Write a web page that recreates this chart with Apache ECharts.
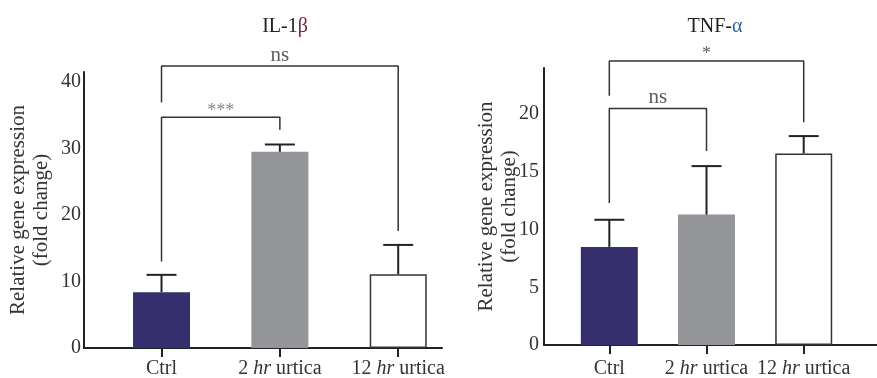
<!DOCTYPE html>
<html>
<head>
<meta charset="utf-8">
<script src="https://cdn.jsdelivr.net/npm/echarts@6/dist/echarts.min.js"></script>
<style>
  html, body { margin: 0; padding: 0; background: #fff; }
  #chart { width: 877px; height: 378px; }
</style>
</head>
<body>
<div id="chart"></div>
<script>
// categories sit at x = 1, 2, 3 on a value axis
const categories = ["Ctrl", "2 {i|hr} urtica", "12 {i|hr} urtica"];
const positions = [1, 2, 3];
const barColors = ["#352f6e", "#939598", "#ffffff"];

// IL-1β
const ilMean = [8.4, 29.5, 11.1];
const ilErrTop = [11.0, 30.6, 15.5];
// TNF-α
const tnfMean = [8.5, 11.3, 16.6];
const tnfErrTop = [10.85, 15.5, 18.1];

// significance brackets: [from, to, top, left leg end, right leg end, text]
const ilBrackets = [
  [1, 3, 42.4, 36.9, 17.6, "ns"],
  [1, 2, 34.7, 13.0, 32.8, "***"]
];
const tnfBrackets = [
  [1, 3, 24.6, 21.6, 19.3, "*"],
  [1, 2, 20.5, 12.3, 16.8, "ns"]
];

const FONT = "Liberation Serif";
const INK = "#222";
const FS = 20;

function barData(means) {
  return means.map((v, i) => ({
    value: [positions[i], v],
    itemStyle: {
      color: barColors[i],
      borderColor: i === 2 ? "#333" : barColors[i],
      borderWidth: i === 2 ? 1.5 : 0
    }
  }));
}

function errorSeries(idx, means, tops) {
  return {
    type: "custom",
    xAxisIndex: idx,
    yAxisIndex: idx,
    z: 5,
    data: means.map((v, i) => [positions[i], v, tops[i]]),
    renderItem: function (params, api) {
      const lo = api.coord([api.value(0), api.value(1)]);
      const hi = api.coord([api.value(0), api.value(2)]);
      const style = { stroke: INK, lineWidth: 2 };
      return {
        type: "group",
        children: [
          { type: "line", shape: { x1: lo[0], y1: lo[1], x2: hi[0], y2: hi[1] }, style: style },
          { type: "line", shape: { x1: hi[0] - 15, y1: hi[1], x2: hi[0] + 15, y2: hi[1] }, style: style }
        ]
      };
    }
  };
}

function bracketSeries(idx, brackets) {
  const out = [];
  brackets.forEach((b) => {
    const isNs = b[5] === "ns";
    out.push({
      type: "line",
      xAxisIndex: idx,
      yAxisIndex: idx,
      clip: false,
      showSymbol: false,
      silent: true,
      z: 6,
      lineStyle: { color: "#333", width: 1.5 },
      data: [[b[0], b[3]], [b[0], b[2]], [b[1], b[2]], [b[1], b[4]]]
    });
    out.push({
      type: "scatter",
      xAxisIndex: idx,
      yAxisIndex: idx,
      clip: false,
      symbolSize: 0,
      silent: true,
      z: 6,
      data: [[(b[0] + b[1]) / 2, b[2]]],
      label: {
        show: true,
        position: "top",
        distance: isNs ? 0 : (b[5] === "*" ? -2 : -3),
        formatter: b[5],
        fontFamily: FONT,
        fontSize: isNs ? 21 : 18,
        color: b[5] === "***" ? "#666" : "#333"
      }
    });
  });
  return out;
}

function xAxis(idx, min, max, margin) {
  return {
    type: "value",
    gridIndex: idx,
    min: min,
    max: max,
    splitLine: { show: false },
    axisLine: { show: true, onZero: false, lineStyle: { color: INK, width: 2 } },
    axisTick: { show: true, customValues: positions, length: 9, lineStyle: { color: INK, width: 2 } },
    axisLabel: {
      customValues: positions,
      margin: margin,
      fontFamily: FONT,
      fontSize: FS,
      color: "#333",
      formatter: (v) => categories[positions.indexOf(v)],
      rich: { i: { fontFamily: FONT, fontSize: FS, fontStyle: "italic", color: "#333" } }
    }
  };
}

function yAxis(idx, max, interval, nameGap, labelMargin) {
  return {
    type: "value",
    gridIndex: idx,
    min: 0,
    max: max,
    interval: interval,
    name: "Relative gene expression\n(fold change)",
    nameLocation: "middle",
    nameGap: nameGap,
    nameRotate: 90,
    nameMoveOverlap: false,
    nameTextStyle: { fontFamily: FONT, fontSize: 21, lineHeight: 23, color: "#333" },
    splitLine: { show: false },
    axisTick: { show: false },
    axisLine: { show: true, lineStyle: { color: INK, width: 2 } },
    axisLabel: { showMaxLabel: false, margin: labelMargin, fontFamily: FONT, fontSize: FS, color: "#333" }
  };
}

const chart = echarts.init(document.getElementById("chart"), null, { renderer: "canvas" });

chart.setOption({
  animation: false,
  backgroundColor: "#fff",
  title: [
    {
      text: "IL-1{b|β}",
      left: 280,
      top: 12,
      textAlign: "center",
      textStyle: { fontFamily: FONT, fontSize: 20, fontWeight: "normal", color: INK,
        rich: { b: { fontFamily: FONT, fontSize: 20, color: "#6b2535" } } }
    },
    {
      text: "TNF-{a|α}",
      left: 710,
      top: 12,
      textAlign: "center",
      textStyle: { fontFamily: FONT, fontSize: 20, fontWeight: "normal", color: INK,
        rich: { a: { fontFamily: FONT, fontSize: 20, color: "#2b5fa8" } } }
    }
  ],
  grid: [
    { left: 84, top: 72, width: 358, height: 276, outerBoundsMode: "none" },
    { left: 544, top: 68, width: 333, height: 277, outerBoundsMode: "none" }
  ],
  xAxis: [xAxis(0, 0.345, 3.37, 11), xAxis(1, 0.328, 3.754, 14)],
  yAxis: [yAxis(0, 41.5, 10, 31, 3), yAxis(1, 24, 5, 23, 5)],
  series: [
    { type: "bar", xAxisIndex: 0, yAxisIndex: 0, barWidth: 57, z: 3, data: barData(ilMean) },
    { type: "bar", xAxisIndex: 1, yAxisIndex: 1, barWidth: 57, z: 3, data: barData(tnfMean) },
    errorSeries(0, ilMean, ilErrTop),
    errorSeries(1, tnfMean, tnfErrTop),
    ...bracketSeries(0, ilBrackets),
    ...bracketSeries(1, tnfBrackets)
  ]
});
</script>
</body>
</html>
